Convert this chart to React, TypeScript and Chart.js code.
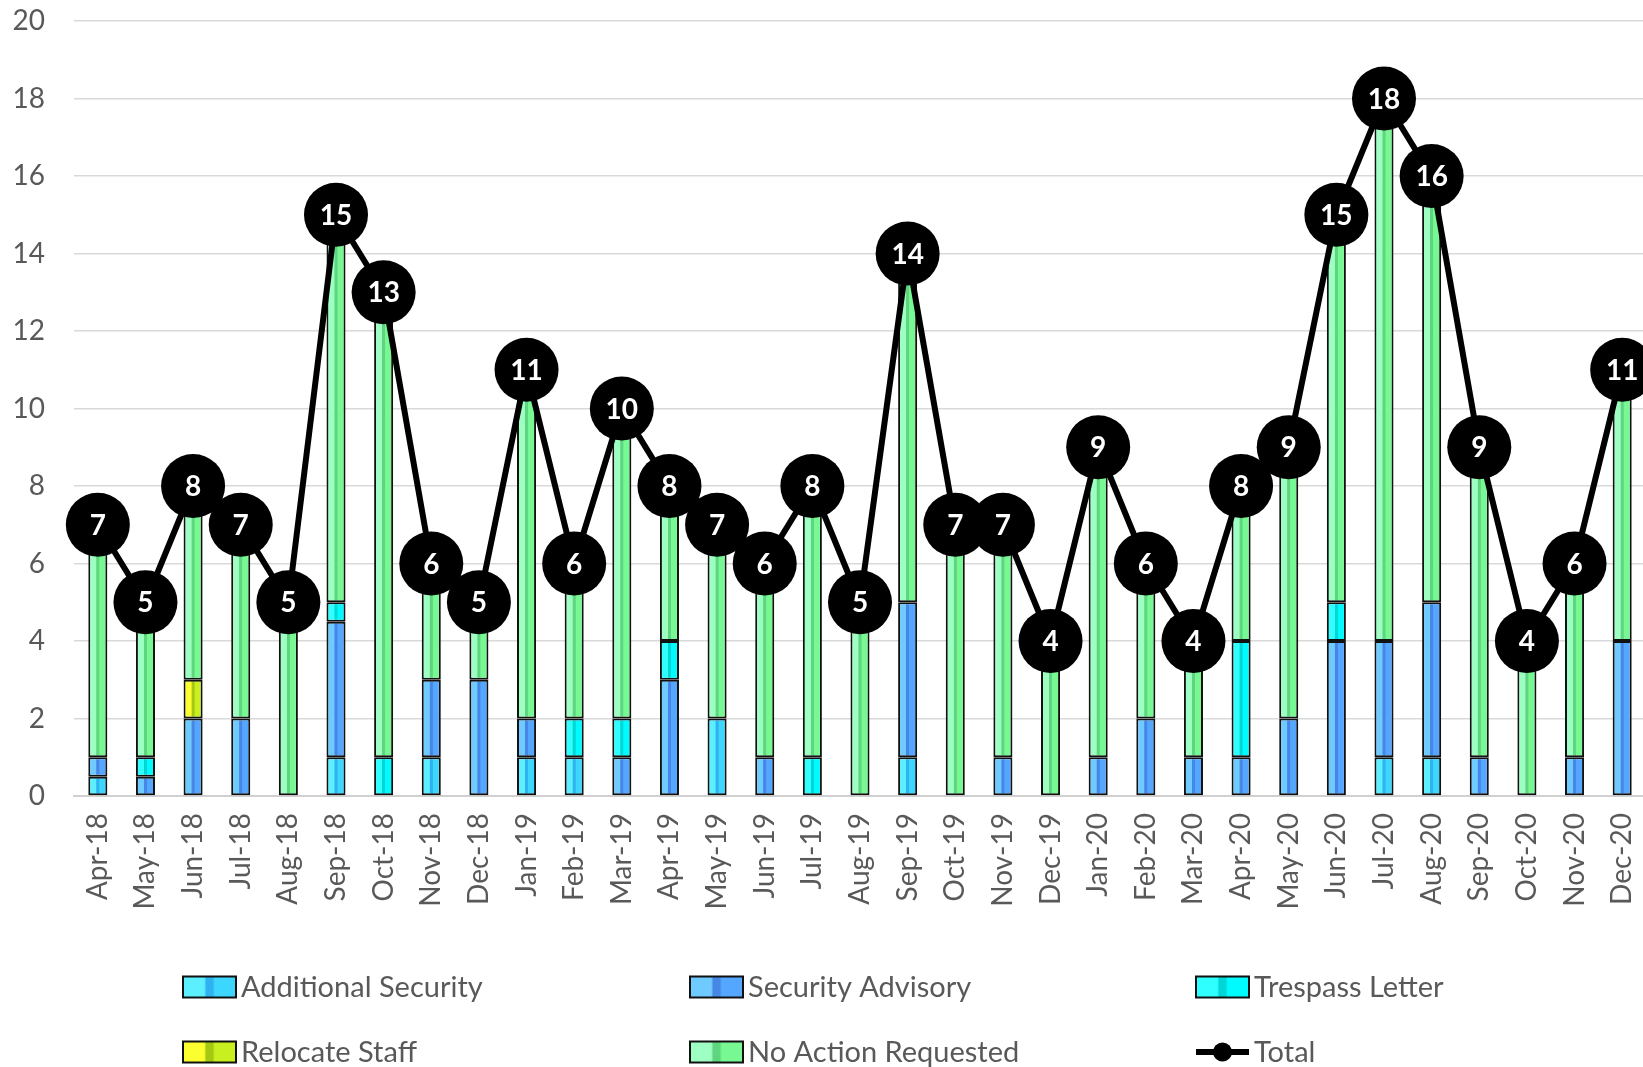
import React, { useEffect, useRef } from 'react';
import { Chart, registerables } from 'chart.js';

Chart.register(...registerables);

const months = [
  'Apr-18', 'May-18', 'Jun-18', 'Jul-18', 'Aug-18', 'Sep-18', 'Oct-18', 'Nov-18', 'Dec-18',
  'Jan-19', 'Feb-19', 'Mar-19', 'Apr-19', 'May-19', 'Jun-19', 'Jul-19', 'Aug-19', 'Sep-19', 'Oct-19', 'Nov-19', 'Dec-19',
  'Jan-20', 'Feb-20', 'Mar-20', 'Apr-20', 'May-20', 'Jun-20', 'Jul-20', 'Aug-20', 'Sep-20', 'Oct-20', 'Nov-20', 'Dec-20',
];

const additionalSecurity = [0.5, 0, 0, 0, 0, 1, 0, 1, 0, 1, 1, 0, 0, 2, 0, 0, 0, 1, 0, 0, 0, 0, 0, 0, 0, 0, 0, 1, 1, 0, 0, 0, 0];
const securityAdvisory = [0.5, 0.5, 2, 2, 0, 3.5, 0, 2, 3, 1, 0, 1, 3, 0, 1, 0, 0, 4, 0, 1, 0, 1, 2, 1, 1, 2, 4, 3, 4, 1, 0, 1, 4];
const trespassLetter = [0, 0.5, 0, 0, 0, 0.5, 1, 0, 0, 0, 1, 1, 1, 0, 0, 1, 0, 0, 0, 0, 0, 0, 0, 0, 3, 0, 1, 0, 0, 0, 0, 0, 0];
const relocateStaff = [0, 0, 1, 0, 0, 0, 0, 0, 0, 0, 0, 0, 0, 0, 0, 0, 0, 0, 0, 0, 0, 0, 0, 0, 0, 0, 0, 0, 0, 0, 0, 0, 0];
const noActionRequested = [6, 4, 5, 5, 5, 10, 12, 3, 2, 9, 4, 8, 4, 5, 5, 7, 5, 9, 7, 6, 4, 8, 4, 3, 4, 7, 10, 14, 11, 8, 4, 5, 7];
const totals = [7, 5, 8, 7, 5, 15, 13, 6, 5, 11, 6, 10, 8, 7, 6, 8, 5, 14, 7, 7, 4, 9, 6, 4, 8, 9, 15, 18, 16, 9, 4, 6, 11];

const yTicks = [0, 20, 2];

type Shade = { light: string; base: string; dark: string };
const shades: Shade[] = [
  { light: '#5cefff', base: '#3dd6ff', dark: '#2fb2f0' },
  { light: '#6fcaff', base: '#55a6ff', dark: '#4687e6' },
  { light: '#30ffff', base: '#00fbff', dark: '#00d6d6' },
  { light: '#fbff30', base: '#c8f020', dark: '#a6c812' },
  { light: '#9dffc2', base: '#78f892', dark: '#5ed67f' },
];
const seriesNames = ['Additional Security', 'Security Advisory', 'Trespass Letter', 'Relocate Staff', 'No Action Requested'];
const seriesData = [additionalSecurity, securityAdvisory, trespassLetter, relocateStaff, noActionRequested];

const FONT = 'Lato, "Open Sans", sans-serif';
const TEXT = '#595959';
const BAR_FRACTION = 0.4;

function bevel(c: CanvasRenderingContext2D, x0: number, x1: number, s: Shade) {
  const g = c.createLinearGradient(x0, 0, x1, 0);
  g.addColorStop(0, s.light);
  g.addColorStop(0.4, s.light);
  g.addColorStop(0.44, s.dark);
  g.addColorStop(0.56, s.dark);
  g.addColorStop(0.6, s.base);
  g.addColorStop(1, s.base);
  return g;
}

const totalLabels = {
  id: 'totalLabels',
  afterDatasetsDraw(chart: any) {
    const idx = chart.data.datasets.findIndex((d: any) => d.type === 'line');
    const meta = chart.getDatasetMeta(idx);
    const c = chart.ctx;
    c.save();
    c.fillStyle = '#ffffff';
    c.font = `bold 28px ${FONT}`;
    c.textAlign = 'center';
    c.textBaseline = 'middle';
    meta.data.forEach((pt: any, i: number) => {
      c.fillText(String(totals[i]), pt.x, pt.y + 1);
    });
    c.restore();
  },
};

const gridLegend = {
  id: 'gridLegend',
  afterDraw(chart: any) {
    const c = chart.ctx;
    const cols = [183, 690, 1196];
    const rows = [987, 1052];
    const items = [...seriesNames.map((n, i) => ({ name: n, shade: shades[i] as Shade | null })), { name: 'Total', shade: null }];
    c.save();
    c.font = `29px ${FONT}`;
    c.textBaseline = 'middle';
    c.textAlign = 'left';
    items.forEach((it, i) => {
      const x = cols[i % 3];
      const y = rows[Math.floor(i / 3)];
      const w = 53;
      const h = 21;
      if (it.shade) {
        c.fillStyle = bevel(c, x, x + w, it.shade);
        c.fillRect(x, y - h / 2, w, h);
        c.lineWidth = 2;
        c.strokeStyle = '#111';
        c.strokeRect(x, y - h / 2, w, h);
      } else {
        c.strokeStyle = '#000';
        c.lineWidth = 6;
        c.beginPath();
        c.moveTo(x, y);
        c.lineTo(x + w, y);
        c.stroke();
        c.fillStyle = '#000';
        c.beginPath();
        c.arc(x + w / 2, y, 9.5, 0, Math.PI * 2);
        c.fill();
      }
      c.fillStyle = TEXT;
      c.fillText(it.name, x + w + 5, y + 1);
    });
    c.restore();
  },
};

export default function App() {
  const ref = useRef<HTMLCanvasElement | null>(null);

  useEffect(() => {
    document.body.style.margin = '0';
    document.body.style.overflow = 'hidden';
    const canvas = ref.current;
    if (!canvas) return;

    const barDatasets = seriesData.map((arr, si) => ({
      type: 'bar' as const,
      label: seriesNames[si],
      data: arr.map((v) => (v === 0 ? null : v)),
      order: 1,
      stack: 's',
      borderColor: '#111',
      borderWidth: 2,
      borderSkipped: false,
      barPercentage: 0.8,
      categoryPercentage: 0.5,
      backgroundColor: (ctx: any) => {
        const chart = ctx.chart;
        const xs = chart.scales && chart.scales.x;
        if (!xs || !chart.chartArea || ctx.dataIndex === undefined) return shades[si].base;
        const cx = xs.getPixelForValue(ctx.dataIndex);
        const bw = (xs.width / months.length) * BAR_FRACTION;
        return bevel(chart.ctx, cx - bw / 2, cx + bw / 2, shades[si]);
      },
    }));

    const chart = new Chart(canvas, {
      data: {
        labels: months,
        datasets: [
          ...barDatasets,
          {
            type: 'line' as const,
            label: 'Total',
            data: totals,
            order: 0,
            borderColor: '#000',
            borderWidth: 6,
            pointRadius: 32,
            pointHoverRadius: 32,
            pointBackgroundColor: '#000',
            pointBorderWidth: 0,
            tension: 0,
            clip: false as any,
          },
        ] as any,
      },
      options: {
        animation: false,
        responsive: false,
        maintainAspectRatio: false,
        layout: { autoPadding: false, padding: { top: 21, right: 54, bottom: 0, left: 0 } },
        plugins: {
          legend: { display: false },
          tooltip: { enabled: false },
        },
        scales: {
          x: {
            stacked: true,
            grid: { display: false, drawTicks: false },
            border: { display: true, color: '#d0d0d0', width: 2 },
            ticks: {
              autoSkip: false,
              minRotation: 90,
              maxRotation: 90,
              padding: 17,
              color: TEXT,
              font: { family: FONT, size: 28 },
            },
            afterFit: (s: any) => {
              s.height = 271;
              s.paddingLeft = 0;
              s.paddingRight = 0;
            },
          },
          y: {
            stacked: true,
            min: yTicks[0],
            max: yTicks[1],
            ticks: {
              stepSize: yTicks[2],
              padding: 29,
              color: TEXT,
              font: { family: FONT, size: 28 },
            },
            grid: { color: '#d9d9d9', lineWidth: 1.5, drawTicks: false },
            border: { display: false },
            afterFit: (s: any) => {
              s.width = 74;
              s.paddingTop = 0;
              s.paddingBottom = 0;
            },
          },
        },
      },
      plugins: [totalLabels, gridLegend],
    } as any);

    return () => chart.destroy();
  }, []);

  return (
    <div style={{ position: 'fixed', left: 0, top: 0, width: 1700, height: 1067, background: '#fff' }}>
      <canvas ref={ref} width={1700} height={1067} style={{ width: 1700, height: 1067, display: 'block' }} />
    </div>
  );
}
